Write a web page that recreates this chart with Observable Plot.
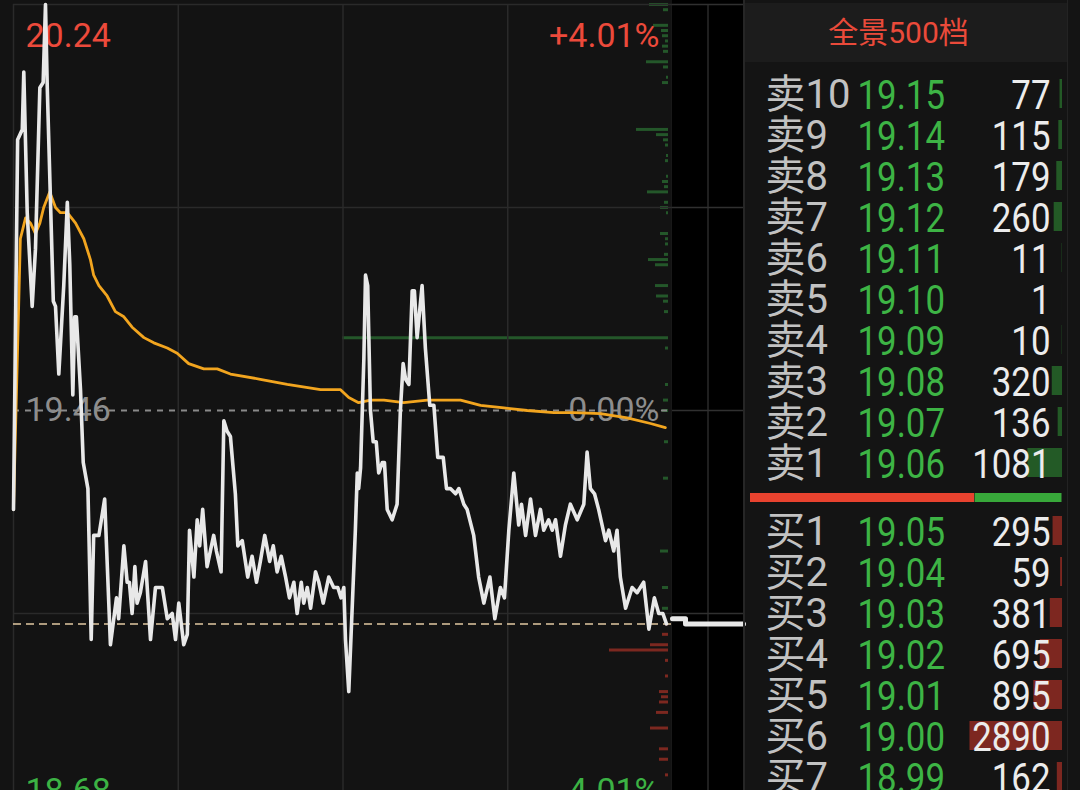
<!DOCTYPE html>
<html><head><meta charset="utf-8">
<script src="https://cdn.jsdelivr.net/npm/d3@7"></script>
<script src="https://cdn.jsdelivr.net/npm/@observablehq/plot@0.6"></script>
<style>
html,body{margin:0;padding:0;background:#141414;}
body{width:1080px;height:790px;overflow:hidden;position:relative;font-family:Roboto,"Noto Sans CJK SC",sans-serif;}
.abs{position:absolute;}
.abs svg{display:block;position:absolute;left:0;top:0;overflow:visible;}
</style></head><body>
<div id="chart" class="abs" style="left:0;top:0;width:673px;height:820px;background:#131313"></div>
<div id="after" class="abs" style="left:672px;top:0;width:71px;height:820px;background:#000"></div>
<div class="abs" style="left:743px;top:0;width:2px;height:790px;background:#262626"></div>
<div class="abs" style="left:1067px;top:0;width:1px;height:790px;background:#232323"></div>
<div id="header" class="abs" style="left:745px;top:3px;width:322px;height:59px;background:#1c1c1c;color:#ea4a3a;font-size:30px;line-height:59px;text-align:center;box-sizing:border-box;padding-right:15px;font-family:Roboto,'Noto Sans CJK SC',sans-serif"></div>
<div id="sells" class="abs" style="left:745px;top:0;width:335px;height:500px"></div>
<div id="buys" class="abs" style="left:745px;top:505px;width:335px;height:300px"></div>
<div id="ratio" class="abs" style="left:745px;top:493px;width:335px;height:9px"></div>
<script>
// ---------- intraday data (minutes after 09:30, trading time) ----------
const tradeMinutes = [0,1.5,3.2,3.75,5.0,6.8,8.0,9.6,10.8,11.65,
  12.3,14.5,15.3,16.5,18.3,19.6,20.5,21.6,22.3,22.9,
  24.4,25.4,27.1,28.3,29.2,31.1,33.2,35.3,37.5,38.3,
  40.2,41.4,42.2,43.2,44.2,45.0,46.2,48.1,49.9,51.7,
  54.2,56.0,57.8,59.0,60.2,62.0,63.3,64.1,65.7,66.9,
  67.8,68.9,70.5,72.9,73.9,75.6,76.6,77.8,79.0,80.8,
  81.7,83.3,85.3,86.9,88.5,89.9,91.5,93.3,94.6,96.0,
  97.5,99.1,100.5,102.1,103.3,104.8,105.7,107.0,108.2,110.0,
  111.2,112.8,114.8,116.6,118.1,119.3,120.3,120.9,122.1,124.5,
  125.2,125.7,126.4,127.6,128.2,129.0,130.0,131.0,132.1,133.0,
  134.3,135.1,136.1,137.9,139.7,140.9,141.9,142.8,144.0,145.2,
  146.0,147.0,148.8,150.0,151.6,153.1,154.5,156.5,157.7,159.1,
  161.0,162.2,164.0,165.2,167.6,169.4,171.3,173.5,175.3,177.3,
  178.8,180.4,182.2,184.0,185.0,186.5,188.3,190.1,191.9,193.1,
  194.9,196.2,197.4,199.2,201.0,202.8,205.3,207.7,208.9,210.1,
  211.6,213.1,215.6,216.8,218.6,219.8,221.0,222.9,225.3,227.1,
  229.5,231.4,233.4,235.0,236.5,237.8];
const tradePrices = [19.27,19.98,20.00,20.11,19.84,19.66,19.77,20.08,20.09,20.24,
  20.08,19.67,19.66,19.53,19.70,19.86,19.74,19.49,19.64,19.64,
  19.50,19.36,19.31,19.02,19.22,19.22,19.29,19.01,19.10,19.06,
  19.20,19.13,19.13,19.07,19.16,19.09,19.11,19.17,19.02,19.12,
  19.12,19.06,19.07,19.02,19.09,19.01,19.03,19.23,19.14,19.25,
  19.20,19.27,19.16,19.22,19.19,19.15,19.44,19.42,19.41,19.30,
  19.20,19.21,19.14,19.18,19.13,19.17,19.22,19.17,19.20,19.15,
  19.18,19.14,19.10,19.13,19.07,19.13,19.09,19.12,19.08,19.15,
  19.13,19.09,19.14,19.12,19.12,19.10,19.12,19.02,18.92,19.23,
  19.34,19.31,19.35,19.56,19.72,19.70,19.46,19.40,19.40,19.34,
  19.36,19.36,19.27,19.25,19.28,19.46,19.55,19.52,19.51,19.69,
  19.69,19.60,19.70,19.58,19.47,19.47,19.37,19.37,19.31,19.31,
  19.30,19.31,19.28,19.27,19.22,19.14,19.09,19.14,19.06,19.12,
  19.10,19.23,19.34,19.24,19.28,19.22,19.29,19.22,19.27,19.23,
  19.25,19.23,19.25,19.18,19.24,19.28,19.25,19.28,19.38,19.31,
  19.30,19.27,19.21,19.23,19.19,19.23,19.14,19.08,19.12,19.11,
  19.13,19.04,19.10,19.07,19.07,19.05];
const avgMinutes = [0,2.5,4.4,6.2,8.0,9.6,11.0,13.2,15.3,17.1,
  19.6,22.6,25.6,28.0,29.2,31.1,34.1,37.1,40.2,43.2,
  47.5,51.1,56.0,59.6,63.8,69.3,74.2,79.0,89.9,99.7,
  111.8,119.1,122.1,125.7,130.0,134.9,142.1,150.7,155.5,162.8,
  170.1,178.6,187.1,196.8,204.1,213.8,223.5,232.0,237.4];
const avgPrices = [19.27,19.79,19.83,19.82,19.80,19.82,19.85,19.88,19.85,19.84,
  19.84,19.82,19.79,19.75,19.72,19.70,19.68,19.65,19.64,19.62,
  19.60,19.59,19.58,19.57,19.55,19.54,19.54,19.53,19.52,19.51,
  19.50,19.50,19.485,19.475,19.48,19.48,19.475,19.48,19.48,19.48,
  19.47,19.465,19.46,19.456,19.456,19.454,19.446,19.435,19.427];
// depth histogram at the right edge (relative size)
const depthPrices = [20.24,20.23,20.20,20.19,20.18,20.17,20.16,20.15,20.13,20.12,
  20.10,20.09,20.00,19.99,19.98,19.97,19.95,19.94,19.91,19.90,
  19.89,19.88,19.86,19.85,19.84,19.80,19.79,19.78,19.76,19.75,
  19.74,19.70,19.68,19.67,19.65,19.60,19.58,19.51,19.48,19.46,
  19.40,19.33,19.19,19.12,19.08,
  19.05,19.03,19.01,19.00,18.98,18.95,18.92,18.91,18.90,18.88,
  18.85,18.81,18.79,18.76];
const depthSizes = [19,5,15,7,6,3,6,5,22,5,
  2,6,32,12,5,3,2,3,2,6,
  4,21,4,8,2,8,3,3,4,20,
  13,13,12,5,4,326,3,3,5,6,
  4,5,8,6,6,
  3,6,18,59,3,3,9,7,9,12,
  18,9,9,3];
// after-hours (minutes after 15:00)
const afterMinutes = [0, 5.5, 30];
const afterPrices = [19.06, 19.05, 19.05];
const gridMinutes = [0, 60, 120, 180, 240];
const afterGridMinutes = [15];
const gridPrices = [20.24, 19.85, 19.46, 19.07, 18.68];
const prevClose = 19.46;
const lastPrice = 19.05;
const axisPrices = [20.24, 19.46, 18.68];
const axisPriceLabels = ["20.24", "19.46", "18.68"];
const axisPctLabels = ["+4.01%", "0.00%", "-4.01%"];
// ---------- order book ----------
const bookTitle = "全景500档";
const sellLabels = ["卖10","卖9","卖8","卖7","卖6","卖5","卖4","卖3","卖2","卖1"];
const sellPrices = [19.15,19.14,19.13,19.12,19.11,19.10,19.09,19.08,19.07,19.06];
const sellVolumes = [77,115,179,260,11,1,10,320,136,1081];
const buyLabels = ["买1","买2","买3","买4","买5","买6","买7"];
const buyPrices = [19.05,19.04,19.03,19.02,19.01,19.00,18.99];
const buyVolumes = [295,59,381,695,895,2890,162];
const ratioSides = ["买","卖"];
const ratioShares = [0.72, 0.28];

const FONT = "Roboto, 'Noto Sans CJK SC', sans-serif";
const H = 820;
const yDomain = [18.68, 20.24];

function squeeze(svg, s) {
  let nodes = svg.querySelectorAll('g[aria-label="num"] text');
  if (!nodes.length) nodes = svg.querySelectorAll('g[font-size="41"] text');
  if (!nodes.length) nodes = Array.from(svg.querySelectorAll('text')).filter(t => {
    const g = t.closest('g'); return g && g.getAttribute('font-size') === '41';
  });
  nodes.forEach(t => {
    const tr = t.getAttribute("transform") || "";
    const x = parseFloat(t.getAttribute("x") || 0) || 0;
    t.setAttribute("transform", `${tr} translate(${x},0) scale(${s},1) translate(${-x},0)`);
  });
}

// depth bars (beneath)
const depth = depthPrices.map((p, i) => ({p, s: depthSizes[i], side: p > lastPrice ? "ask" : "bid"}));
const depthPlot = Plot.plot({
  width: 673, height: H, marginLeft: 13, marginRight: 5, marginTop: 4, marginBottom: 4,
  x: {domain: [0, 655], reverse: true, axis: null},
  y: {domain: yDomain, axis: null},
  color: {domain: ["ask", "bid"], range: ["#24572a", "#7c2820"]},
  style: {background: "transparent"},
  marks: [Plot.ruleY(depth, {y: "p", x1: 0, x2: "s", stroke: "side", strokeWidth: 3})]
});

const trade = tradeMinutes.map((m, i) => ({m, p: tradePrices[i]}));
const avg = avgMinutes.map((m, i) => ({m, p: avgPrices[i]}));
const labelMarks = [];
const anchors = ["top", "middle", "bottom"];
const offs = [18, 0, -15];
const cols = ["#ec4a3b", "#8d8d8d", "#3cb244"];
axisPrices.forEach((p, i) => {
  const row = [{p, label: axisPriceLabels[i], pct: axisPctLabels[i]}];
  labelMarks.push(Plot.text(row, {x: 0, y: "p", text: "label", textAnchor: "start", lineAnchor: anchors[i], dx: 12, dy: offs[i], fill: cols[i], fontSize: 34}));
  labelMarks.push(Plot.text(row, {x: 240, y: "p", text: "pct", textAnchor: "end", lineAnchor: anchors[i], dx: -13, dy: offs[i], fill: cols[i], fontSize: 34}));
});

const mainPlot = Plot.plot({
  width: 673, height: H, marginLeft: 13, marginRight: 1, marginTop: 4, marginBottom: 4,
  x: {domain: [0, 240], axis: null},
  y: {domain: yDomain, axis: null},
  style: {background: "transparent", fontFamily: FONT},
  marks: [
    Plot.ruleX(gridMinutes, {stroke: "#2a2a2a", strokeWidth: 1.5}),
    Plot.ruleY(gridPrices.filter(p => p !== prevClose), {stroke: "#2a2a2a", strokeWidth: 1.5}),
    ...labelMarks,
    Plot.ruleY([prevClose], {stroke: "#8a8a8a", strokeWidth: 2, strokeDasharray: "6,6"}),
    Plot.ruleY([lastPrice], {stroke: "#e2c9a3", strokeWidth: 1.5, strokeDasharray: "8,5"}),
    Plot.line(avg, {x: "m", y: "p", stroke: "#f2a51f", strokeWidth: 2.8}),
    Plot.line(trade, {x: "m", y: "p", stroke: "#e8e8e8", strokeWidth: 3.6, strokeLinejoin: "round"})
  ]
});
const chart = document.getElementById("chart");
chart.appendChild(depthPlot);
chart.appendChild(mainPlot);

const after = afterMinutes.map((m, i) => ({m, p: afterPrices[i]}));
const afterPlot = Plot.plot({
  width: 71, height: H, margin: 0, marginTop: 4, marginBottom: 4,
  x: {domain: [0, 30], axis: null},
  y: {domain: yDomain, axis: null},
  style: {background: "#000"},
  marks: [
    Plot.ruleX(afterGridMinutes, {stroke: "#2a2a2a", strokeWidth: 1.5}),
    Plot.ruleY(gridPrices, {stroke: "#303030", strokeWidth: 1.5}),
    Plot.line(after, {x: "m", y: "p", curve: "step-after", stroke: "#e8e8e8", strokeWidth: 5})
  ]
});
document.getElementById("after").appendChild(afterPlot);

document.getElementById("header").textContent = bookTitle;

function bookPlot(labels, prices, vols, o) {
  const rows = labels.map((l, i) => ({l, p: prices[i], v: vols[i]}));
  const svg = Plot.plot({
    width: 335, height: o.height, marginTop: o.mt, marginBottom: o.mb, marginLeft: 0, marginRight: 18,
    x: {domain: [0, 9900], reverse: true, axis: null},
    y: {type: "point", domain: labels, axis: null},
    style: {background: "transparent", fontFamily: FONT, overflow: "visible"},
    marks: [
      Plot.ruleY(rows, {y: "l", x1: 0, x2: "v", stroke: o.bar, strokeWidth: 29}),
      Plot.text(rows, {y: "l", text: "l", frameAnchor: "left", dx: 20, dy: 2, textAnchor: "start", fill: "#c2c2c2", fontSize: 40}),
      Plot.text(rows, {y: "l", text: d => d.p.toFixed(2), frameAnchor: "left", dx: 112, dy: 2, textAnchor: "start", fill: "#3db445", fontSize: 41, ariaLabel: "num"}),
      Plot.text(rows, {y: "l", text: d => String(d.v), frameAnchor: "left", dx: 305, dy: 2, textAnchor: "end", fill: "#ececec", fontSize: 41, ariaLabel: "num"})
    ]
  });
  squeeze(svg, 0.85);
  return svg;
}
document.getElementById("sells").appendChild(bookPlot(sellLabels, sellPrices, sellVolumes, {height: 500, mt: 72, mb: 17, bar: "#235a26"}));
document.getElementById("buys").appendChild(bookPlot(buyLabels, buyPrices, buyVolumes, {height: 300, mt: 4, mb: 9, bar: "#7d2720"}));

const ratioPlot = Plot.plot({
  width: 335, height: 9, margin: 0, marginLeft: 5, marginRight: 18,
  x: {domain: [0, 1], axis: null},
  color: {domain: ratioSides, range: ["#e8432f", "#38a83a"]},
  style: {background: "transparent"},
  marks: [Plot.barX(ratioSides.map((s, i) => ({s, v: ratioShares[i]})), Plot.stackX({x: "v", fill: "s", insetRight: 0.5}))]
});
document.getElementById("ratio").appendChild(ratioPlot);
</script>
</body></html>
